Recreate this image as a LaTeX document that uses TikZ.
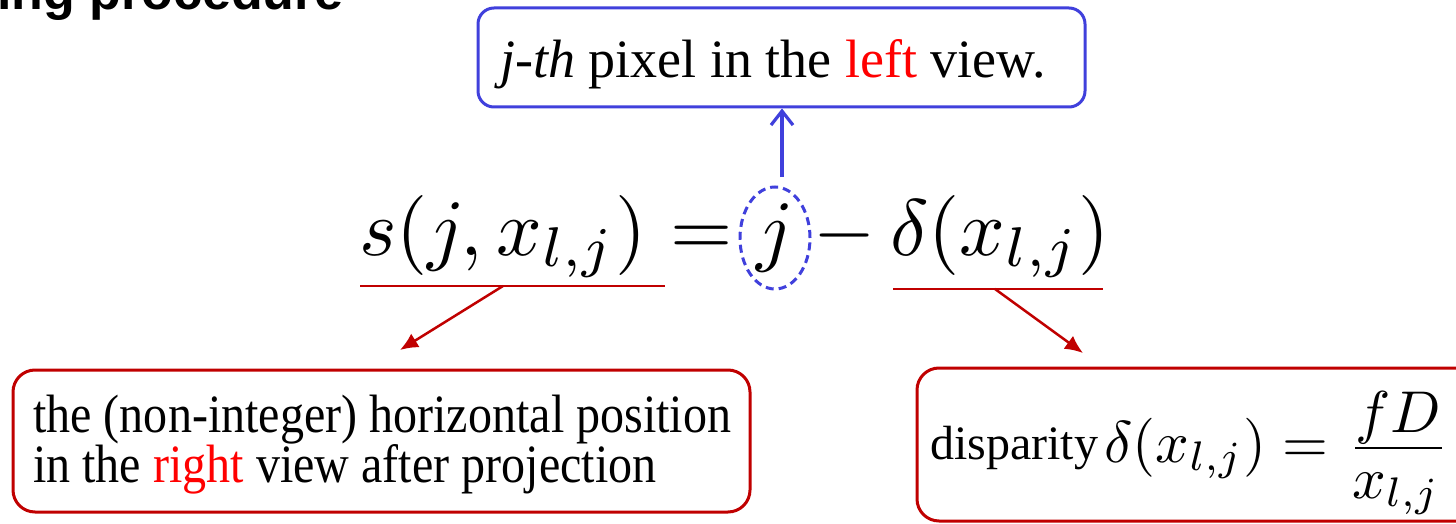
\documentclass[tikz,border=0pt]{standalone}
\usepackage{fontspec}
\setmainfont{Liberation Serif}
\newfontfamily\titlefam{Liberation Sans}
\usetikzlibrary{shapes.geometric,arrows.meta}
\definecolor{myblue}{RGB}{64,64,220}
\definecolor{boxred}{RGB}{192,0,0}
\definecolor{txtred}{RGB}{255,0,0}
\newcommand{\eqbig}[1]{\scalebox{8}{$#1$}}
\newcommand{\eqmid}[1]{\scalebox{5.9}{$#1$}}
\begin{document}
\begin{tikzpicture}[x=1pt,y=-1pt,
  bluebox/.style={draw=myblue, line width=3pt, rounded corners=16pt, inner sep=0pt},
  redbox/.style={draw=boxred, line width=3pt, rounded corners=22pt, inner sep=0pt},
  redln/.style={draw=boxred, line width=2.5pt},
  redarrow/.style={redln, -{Latex[length=18pt,width=16pt]}},
  bluearrow/.style={draw=myblue, line width=3.2pt, -{Straight Barb[length=14pt,width=22pt]}},
  eqpart/.style={anchor=base west, inner sep=0pt},
  txt/.style={anchor=base west, inner sep=0pt},
]
\useasboundingbox (0,0) rectangle (1456,524);
\clip (0,0) rectangle (1456,524);
% title (cut off)
\node[txt, font=\titlefam\bfseries\fontsize{52}{60}\selectfont] (title) at (-3,10) {ing procedure};
% top box
\node[bluebox, minimum width=607pt, minimum height=99pt] (topbox) at (781.5,57.5) {};
\node[txt, font=\fontsize{54}{60}\selectfont] (toptext) at (500,78) {\textit{j-th} pixel in the \textcolor{txtred}{left} view.};
% equation
\node[eqpart] (lhs) at (359,255) {\eqbig{s(j,x_{l,j})}};
\node[eqpart] (eqs) at (670,255) {\eqbig{=}};
\node[ellipse, draw=myblue, line width=3pt, dash pattern=on 8pt off 5pt, minimum width=70pt, minimum height=102pt, inner sep=0pt] (jell) at (775,238) {\eqbig{j}};
\node[eqpart] (minus) at (813,255) {\eqbig{-}};
\node[eqpart] (rhs) at (890,255) {\eqbig{\delta(x_{l,j})}};
% blue arrow
\coordinate (ab) at (782,177);
\draw[bluearrow] (ab) -- (ab |- topbox.south);
% underlines and red arrows
\coordinate (u1a) at (360,286);
\coordinate (u1b) at (665,286);
\coordinate (u1m) at (503,286);
\coordinate (t1) at (400,350);
\coordinate (u2a) at (893,289);
\coordinate (u2b) at (1103,289);
\coordinate (u2m) at (995,289);
\coordinate (t2) at (1083,353);
\draw[redln] (u1a) -- (u1b);
\draw[redln] (u2a) -- (u2b);
\draw[redarrow] (u1m) -- (t1);
\draw[redarrow] (u2m) -- (t2);
% left box
\node[redbox, minimum width=737pt, minimum height=142pt] (lbox) at (381.5,441) {};
\node[txt, font=\fontsize{54}{60}\selectfont] (ltext1) at (33,432) {\scalebox{0.89}[1]{the (non-integer) horizontal position}};
\node[txt, font=\fontsize{54}{60}\selectfont] (ltext2) at (33,482) {\scalebox{0.89}[1]{in the \textcolor{txtred}{right} view after projection}};
% right box (cut off)
\node[redbox, minimum width=563pt, minimum height=153pt] (rbox) at (1198.5,444.5) {};
\node[txt, font=\fontsize{48}{56}\selectfont] (rtext) at (930,459) {disparity};
\node[txt] (rmath) at (1104,462) {\eqmid{\delta(x_{l,j}) =}};
\node[anchor=base, inner sep=0pt] (fnum) at (1398,432) {\eqmid{fD}};
\node[anchor=base, inner sep=0pt] (fden) at (1396,498) {\eqmid{x_{l,j}}};
\coordinate (fbl) at (1355,448);
\coordinate (fbr) at (1442,448);
\draw[line width=2.4pt] (fbl) -- (fbr);
\end{tikzpicture}
\end{document}
